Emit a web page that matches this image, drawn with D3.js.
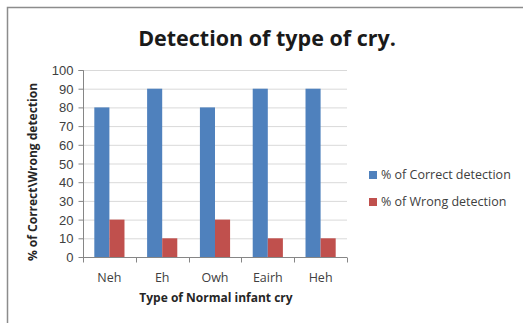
<!DOCTYPE html>
<html>
<head>
<meta charset="utf-8">
<script src="https://cdn.jsdelivr.net/npm/d3@7"></script>
<style>
  html, body { margin: 0; padding: 0; background: #fff; }
  svg { display: block; font-family: "Open Sans", "Liberation Sans", sans-serif; }
</style>
</head>
<body>
<svg id="chart" width="523" height="323"></svg>
<script>
// Cry types and detection percentages
const categories = ["Neh", "Eh", "Owh", "Eairh", "Heh"];
const correctDetection = [80, 90, 80, 90, 90];
const wrongDetection = [20, 10, 20, 10, 10];
const seriesNames = ["% of Correct detection", "% of Wrong detection"];
const yTicks = [0, 10, 20, 30, 40, 50, 60, 70, 80, 90, 100];

const colors = ["#4F81BD", "#C0504D"];
const svg = d3.select("#chart");

// Outer chart frame
svg.append("rect")
  .attr("x", 7.5).attr("y", 7.5)
  .attr("width", 530).attr("height", 330)
  .attr("fill", "#fff").attr("stroke", "#8c8c8c").attr("stroke-width", 1.5);

const plot = { left: 83, right: 347, top: 70, bottom: 257 };

const x = d3.scaleBand().domain(categories).range([plot.left, plot.right]);
const y = d3.scaleLinear().domain([0, 100]).range([plot.bottom, plot.top]);

// Horizontal gridlines
svg.append("g").selectAll("line").data(yTicks.filter(d => d > 0)).join("line")
  .attr("x1", plot.left).attr("x2", plot.right)
  .attr("y1", d => y(d) + 0.5).attr("y2", d => y(d) + 0.5)
  .attr("stroke", "#d9d9d9").attr("stroke-width", 1);

// Bars: each group holds two bars, with a 150% gap between groups
const groupWidth = x.bandwidth();
const barW = groupWidth / 3.5;
const series = [correctDetection, wrongDetection];
series.forEach((vals, si) => {
  svg.append("g").selectAll("rect").data(categories).join("rect")
    .attr("x", (c) => x(c) + groupWidth / 2 - barW + si * barW)
    .attr("width", barW)
    .attr("y", (c, i) => y(vals[i]))
    .attr("height", (c, i) => y(0) - y(vals[i]))
    .attr("fill", colors[si]);
});

// Y axis
const yAxis = svg.append("g")
  .attr("transform", `translate(${plot.left + 0.5},0)`)
  .call(d3.axisLeft(y).tickValues(yTicks).tickSize(5).tickPadding(5));
yAxis.select(".domain").attr("stroke", "#868686").attr("d", `M-5,${plot.top}.5H0V${plot.bottom}.5`);
yAxis.selectAll(".tick line").attr("stroke", "#868686");
yAxis.selectAll(".tick text").attr("fill", "#404040").style("font-size", "13px")
  .attr("dy", "0.35em");

// X axis with ticks at category boundaries
const xAxisG = svg.append("g").attr("transform", `translate(0,${plot.bottom + 0.5})`);
xAxisG.append("line").attr("x1", plot.left).attr("x2", plot.right)
  .attr("stroke", "#868686");
const boundaries = categories.map(c => x(c)).concat([plot.right]);
xAxisG.selectAll("line.b").data(boundaries).join("line").attr("class", "b")
  .attr("x1", d => Math.round(d) + 0.5).attr("x2", d => Math.round(d) + 0.5)
  .attr("y1", 0).attr("y2", 5).attr("stroke", "#868686");
xAxisG.selectAll("text").data(categories).join("text")
  .attr("x", d => x(d) + groupWidth / 2).attr("y", 24)
  .attr("text-anchor", "middle").attr("fill", "#404040")
  .style("font-size", "12.5px").text(d => d);

// Title
svg.append("text").attr("x", 267).attr("y", 46)
  .attr("text-anchor", "middle").attr("font-weight", "bold")
  .style("font-size", "21.5px").attr("fill", "#1a1a1a")
  .text("Detection of type of cry.");

// Axis titles
svg.append("text").attr("x", 216).attr("y", 302)
  .attr("text-anchor", "middle").attr("font-weight", "bold")
  .style("font-size", "12px").attr("fill", "#262626")
  .text("Type of Normal infant cry");

svg.append("text")
  .attr("transform", "translate(37,172) rotate(-90)")
  .attr("text-anchor", "middle").attr("font-weight", "bold")
  .style("font-size", "12px").attr("fill", "#262626")
  .text("% of Correct\\Wrong detection");

// Legend
const legend = svg.append("g").attr("transform", "translate(369,0)");
seriesNames.forEach((name, i) => {
  const ly = 175 + i * 27;
  legend.append("rect").attr("x", 0).attr("y", ly - 4).attr("width", 8).attr("height", 8)
    .attr("fill", colors[i]);
  legend.append("text").attr("x", 12).attr("y", ly).attr("dy", "0.35em")
    .style("font-size", "12.5px").attr("fill", "#404040").text(name);
});
</script>
</body>
</html>
